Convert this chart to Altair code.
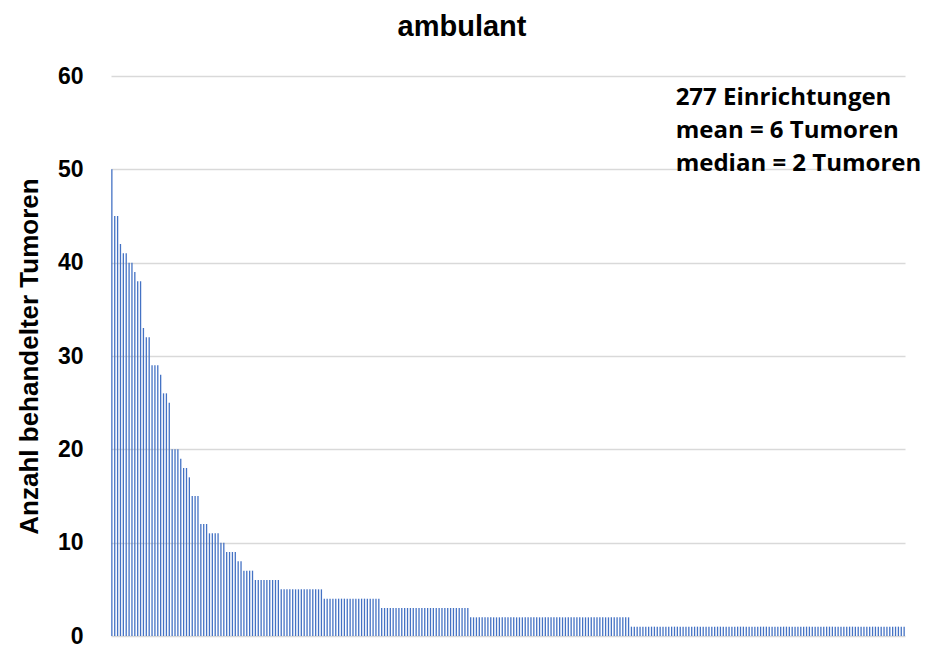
import altair as alt
import pandas as pd

# Top 50 institutions (sorted descending), then runs of small values
top_values = [50, 45, 45, 42, 41, 41, 40, 40, 39, 38, 38, 33, 32, 32, 29, 29, 29, 28,
              26, 26, 25, 20, 20, 20, 19, 18, 18, 17, 15, 15, 15, 12, 12, 12,
              11, 11, 11, 11, 10, 10, 9, 9, 9, 9, 8, 8, 7, 7, 7, 7]
run_values = [6, 5, 4, 3, 2, 1]
run_counts = [9, 15, 20, 31, 56, 96]

title_text = "ambulant"
y_title = "Anzahl behandelter Tumoren"
annotation_lines = ["277 Einrichtungen", "mean = 6 Tumoren", "median = 2 Tumoren"]
y_ticks = [0, 10, 20, 30, 40, 50, 60]

values = list(top_values)
for v, c in zip(run_values, run_counts):
    values += [v] * c

df = pd.DataFrame({"idx": list(range(len(values))), "tumoren": values})
ann = pd.DataFrame({"x": [196.4], "y": [57.6], "label": [annotation_lines]})

xscale = alt.Scale(domain=[-0.3, len(values) - 0.7], nice=False, zero=False, padding=0)
yscale = alt.Scale(domain=[0, 60], nice=False, padding=0)

bars = alt.Chart(df).mark_bar(size=1.3, color="#4472C4").encode(
    x=alt.X("idx:Q", scale=xscale, axis=None),
    y=alt.Y("tumoren:Q", scale=yscale,
            axis=alt.Axis(title=y_title, values=y_ticks, grid=True, gridColor="#d9d9d9",
                          gridWidth=1.5, domain=False, ticks=False, labelFontSize=23,
                          labelFontWeight="bold", labelColor="#000000", labelPadding=28,
                          labelFont="Liberation Sans", titleFont="Liberation Sans",
                          titleFontSize=26, titleFontWeight="bold", titleColor="#000000",
                          titlePadding=15)),
)

text = alt.Chart(ann).mark_text(align="left", baseline="middle", fontSize=24,
                                fontWeight="bold", font="Open Sans", lineHeight=33,
                                color="#000000").encode(
    x=alt.X("x:Q", scale=xscale),
    y=alt.Y("y:Q", scale=yscale),
    text="label",
)

chart = alt.layer(bars, text).properties(
    width=794, height=560,
    autosize=alt.AutoSizeParams(type="none"),
    padding={"left": 103, "top": 68, "right": 17, "bottom": 12},
    title=alt.TitleParams(title_text, fontSize=29, fontWeight="bold", font="Liberation Sans",
                          color="#000000", anchor="middle", dx=-46, offset=23),
).configure_view(stroke=None)

chart.save("out.html", embed_options={"renderer": "svg", "actions": False})
